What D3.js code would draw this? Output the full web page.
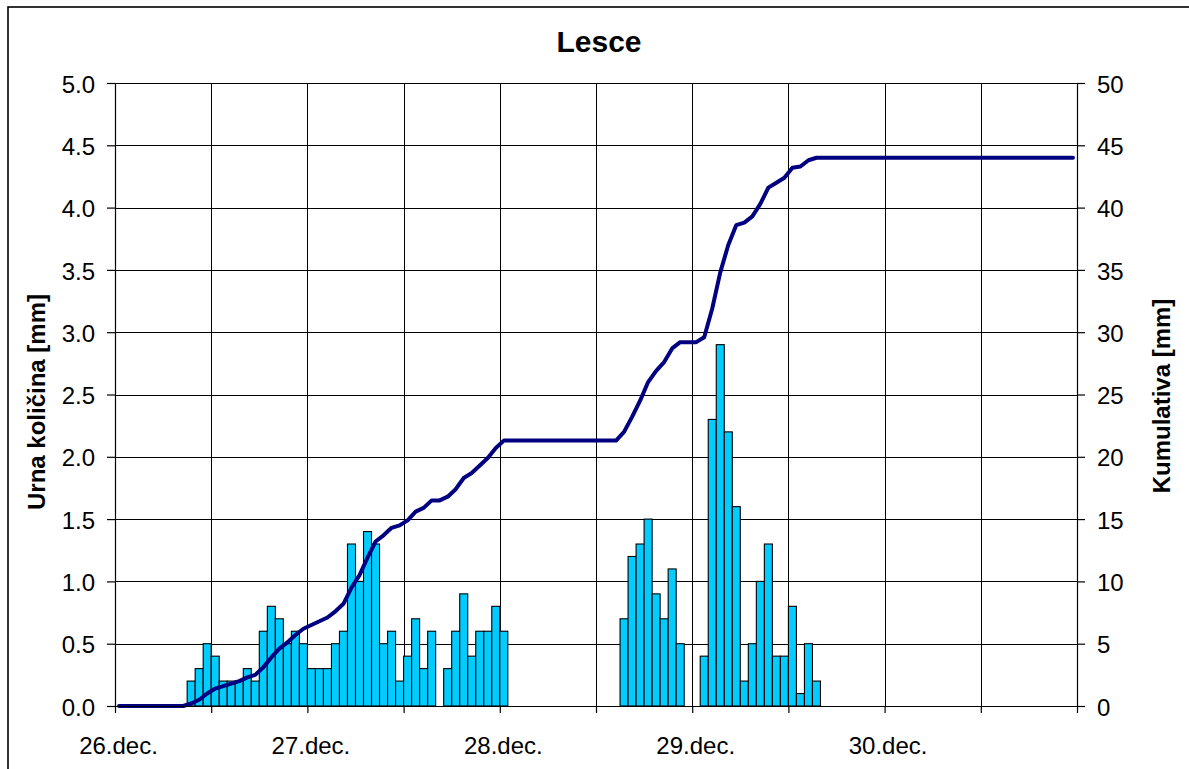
<!DOCTYPE html>
<html>
<head>
<meta charset="utf-8">
<script src="https://cdn.jsdelivr.net/npm/d3@7"></script>
<style>
  html, body { margin: 0; padding: 0; background: #fff; }
  svg { display: block; }
  text { font-family: "Liberation Sans", Arial, sans-serif; fill: #000; }
</style>
</head>
<body>
<svg id="chart" width="1189" height="769"></svg>
<script>
// ---- data ----
const title = "Lesce";
const leftTitle = "Urna količina [mm]";
const rightTitle = "Kumulativa [mm]";
const dayLabels = ["26.dec.", "27.dec.", "28.dec.", "29.dec.", "30.dec."];
const leftTicks = [0, 0.5, 1, 1.5, 2, 2.5, 3, 3.5, 4, 4.5, 5];
const rightTicks = [0, 5, 10, 15, 20, 25, 30, 35, 40, 45, 50];

// hourly precipitation, 26.dec 00h ... 30.dec 23h (120 hours)
const hourlyRain = [
  0, 0, 0, 0, 0, 0, 0, 0, 0, 0.2, 0.3, 0.5, 0.4, 0.2, 0.2, 0.2, 0.3, 0.2, 0.6, 0.8, 0.7, 0.5, 0.6, 0.5,
  0.3, 0.3, 0.3, 0.5, 0.6, 1.3, 1.0, 1.4, 1.3, 0.5, 0.6, 0.2, 0.4, 0.7, 0.3, 0.6, 0, 0.3, 0.6, 0.9, 0.4, 0.6, 0.6, 0.8,
  0.6, 0, 0, 0, 0, 0, 0, 0, 0, 0, 0, 0, 0, 0, 0, 0.7, 1.2, 1.3, 1.5, 0.9, 0.7, 1.1, 0.5, 0,
  0, 0.4, 2.3, 2.9, 2.2, 1.6, 0.2, 0.5, 1.0, 1.3, 0.4, 0.4, 0.8, 0.1, 0.5, 0.2, 0, 0, 0, 0, 0, 0, 0, 0,
  0, 0, 0, 0, 0, 0, 0, 0, 0, 0, 0, 0, 0, 0, 0, 0, 0, 0, 0, 0, 0, 0, 0, 0
];

// cumulative precipitation (120 hours)
const cumulative = [
  0, 0, 0, 0, 0, 0, 0, 0, 0, 0.2, 0.5, 1.0, 1.4, 1.6, 1.8, 2.0, 2.3, 2.5, 3.1, 3.9, 4.6, 5.1, 5.7, 6.2,
  6.5, 6.8, 7.1, 7.6, 8.2, 9.5, 10.5, 11.9, 13.2, 13.7, 14.3, 14.5, 14.9, 15.6, 15.9, 16.5, 16.5, 16.8, 17.4, 18.3, 18.7, 19.3, 19.9, 20.7,
  21.3, 21.3, 21.3, 21.3, 21.3, 21.3, 21.3, 21.3, 21.3, 21.3, 21.3, 21.3, 21.3, 21.3, 21.3, 22.0, 23.2, 24.5, 26.0, 26.9, 27.6, 28.7, 29.2, 29.2,
  29.2, 29.6, 31.9, 34.8, 37.0, 38.6, 38.8, 39.3, 40.3, 41.6, 42.0, 42.4, 43.2, 43.3, 43.8, 44.0, 44.0, 44.0, 44.0, 44.0, 44.0, 44.0, 44.0, 44.0,
  44.0, 44.0, 44.0, 44.0, 44.0, 44.0, 44.0, 44.0, 44.0, 44.0, 44.0, 44.0, 44.0, 44.0, 44.0, 44.0, 44.0, 44.0, 44.0, 44.0, 44.0, 44.0, 44.0, 44.0
];

// ---- layout ----
const svg = d3.select("#chart");
const L = 115, R = 1077, T = 83, B = 706;

const x = d3.scaleLinear().domain([0, 120]).range([L, R]);
const yL = d3.scaleLinear().domain([0, 5]).range([B, T]);
const yR = d3.scaleLinear().domain([0, 50]).range([B, T]);

// outer frame
svg.append("rect").attr("x", 8).attr("y", 7).attr("width", 1300).attr("height", 900)
  .attr("fill", "#fff").attr("stroke", "#000").attr("stroke-width", 1.6);

// plot area
svg.append("rect").attr("x", L).attr("y", T).attr("width", R - L).attr("height", B - T).attr("fill", "#fff");

// gridlines
const grid = svg.append("g").attr("stroke", "#000").attr("stroke-width", 1).attr("shape-rendering", "crispEdges");
grid.selectAll("line.h").data(leftTicks).join("line")
  .attr("x1", L).attr("x2", R).attr("y1", d => Math.round(yL(d)) + 0.5).attr("y2", d => Math.round(yL(d)) + 0.5);
const halfDays = d3.range(0, 121, 12);
grid.selectAll("line.v").data(halfDays).join("line")
  .attr("y1", T).attr("y2", B).attr("x1", d => Math.round(x(d)) + 0.5).attr("x2", d => Math.round(x(d)) + 0.5);

// bars
svg.append("g").selectAll("rect").data(hourlyRain.map((v, i) => ({ v, i })).filter(d => d.v > 0)).join("rect")
  .attr("x", d => x(d.i))
  .attr("width", d => x(d.i + 1) - x(d.i))
  .attr("y", d => yL(d.v))
  .attr("height", d => yL(0) - yL(d.v))
  .attr("fill", "#00CCFF")
  .attr("stroke", "#000")
  .attr("stroke-width", 1.1);

// cumulative line
const line = d3.line().x((d, i) => x(i + 0.5)).y(d => yR(d));
svg.append("path").datum(cumulative).attr("d", line)
  .attr("fill", "none").attr("stroke", "#000080").attr("stroke-width", 4)
  .attr("stroke-linejoin", "round").attr("stroke-linecap", "round");

// axes
const axisFont = 24;
const gL = svg.append("g").attr("transform", `translate(${L},0)`)
  .call(d3.axisLeft(yL).tickValues(leftTicks).tickFormat(d3.format(".1f")).tickSizeInner(8).tickSizeOuter(0).tickPadding(12));
const gR = svg.append("g").attr("transform", `translate(${R},0)`)
  .call(d3.axisRight(yR).tickValues(rightTicks).tickFormat(d3.format("d")).tickSizeInner(8).tickSizeOuter(0).tickPadding(12));
const gX = svg.append("g").attr("transform", `translate(0,${B})`)
  .call(d3.axisBottom(x).tickValues(halfDays).tickFormat(d => (d % 24 === 0 && d < 120) ? dayLabels[d / 24] : "")
    .tickSizeInner(7).tickSizeOuter(0).tickPadding(10));

[gL, gR, gX].forEach(g => {
  g.selectAll(".domain").attr("stroke", "#000").attr("stroke-width", 1.2);
  g.selectAll(".tick line").attr("stroke", "#000").attr("stroke-width", 1.2);
  g.selectAll("text").attr("font-size", axisFont).attr("font-family", "Liberation Sans, Arial, sans-serif").attr("fill", "#000");
});
gX.selectAll(".tick text").attr("dx", 3).attr("dy", "1.28em");
gL.selectAll(".tick text").attr("dy", "0.38em");
gR.selectAll(".tick text").attr("dy", "0.38em");

// titles
svg.append("text").attr("x", 599).attr("y", 52).attr("text-anchor", "middle")
  .attr("font-size", 30).attr("font-weight", "bold").text(title);
svg.append("text").attr("transform", "translate(45,402) rotate(-90)").attr("text-anchor", "middle")
  .attr("font-size", 24).attr("font-weight", "bold").text(leftTitle);
svg.append("text").attr("transform", "translate(1170,396) rotate(-90)").attr("text-anchor", "middle")
  .attr("font-size", 24).attr("font-weight", "bold").text(rightTitle);
</script>
</body>
</html>
